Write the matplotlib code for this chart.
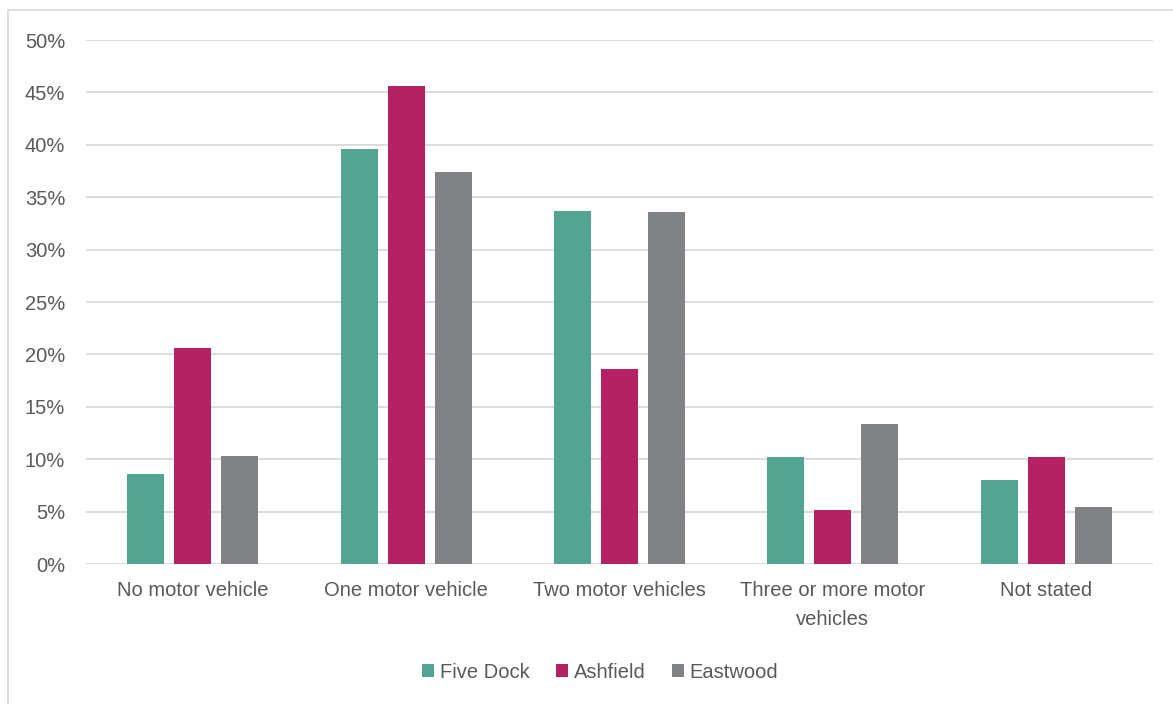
import matplotlib
matplotlib.use('Agg')
import matplotlib.pyplot as plt
import numpy as np

categories = ['No motor vehicle', 'One motor vehicle', 'Two motor vehicles',
              'Three or more motor\nvehicles', 'Not stated']
five_dock = [8.6, 39.6, 33.7, 10.2, 8.0]
ashfield = [20.6, 45.6, 18.6, 5.2, 10.2]
eastwood = [10.3, 37.4, 33.6, 13.4, 5.4]
series_names = ['Five Dock', 'Ashfield', 'Eastwood']
colors = ['#52A590', '#B52264', '#808184']

plt.rcParams['font.family'] = ['Liberation Sans', 'DejaVu Sans']
text_col = '#595959'

fig = plt.figure(figsize=(11.73, 7.04), dpi=100)
ax = fig.add_axes([86 / 1173, 1 - 564 / 704, (1153 - 86) / 1173, (564 - 40) / 704])

x = np.arange(len(categories))
w = 0.173
step = 0.22
for i, (vals, name, c) in enumerate(zip([five_dock, ashfield, eastwood], series_names, colors)):
    ax.bar(x + (i - 1) * step, vals, w, color=c, label=name, zorder=3)

ax.set_xlim(-0.5, len(categories) - 0.5)
ax.set_ylim(0, 50)
ax.set_yticks(range(0, 51, 5))
ax.set_yticklabels([f'{v}%' for v in range(0, 51, 5)])
ax.set_xticks(x)
ax.set_xticklabels(categories, linespacing=1.7)
ax.grid(axis='y', color='#D9D9D9', linewidth=1.3, zorder=0)
for s in ax.spines.values():
    s.set_visible(False)
ax.tick_params(axis='both', length=0, labelsize=14.5, colors=text_col)
ax.tick_params(axis='x', pad=12)
ax.tick_params(axis='y', pad=15)

leg = fig.legend(loc='center', bbox_to_anchor=(600 / 1173, 1 - 672 / 704), ncol=3,
                 frameon=False, fontsize=14.5, handlelength=0.6, handleheight=0.6,
                 handletextpad=0.3, columnspacing=1.3)
for t in leg.get_texts():
    t.set_color(text_col)

# outer frame
fig.patches.append(plt.Rectangle((8 / 1173, -0.01), 1.02, 1 - 10 / 704 + 0.01,
                                 transform=fig.transFigure, fill=False,
                                 edgecolor='#D9D9D9', linewidth=1.3))

plt.savefig('out.png', dpi=100)
plt.close()
